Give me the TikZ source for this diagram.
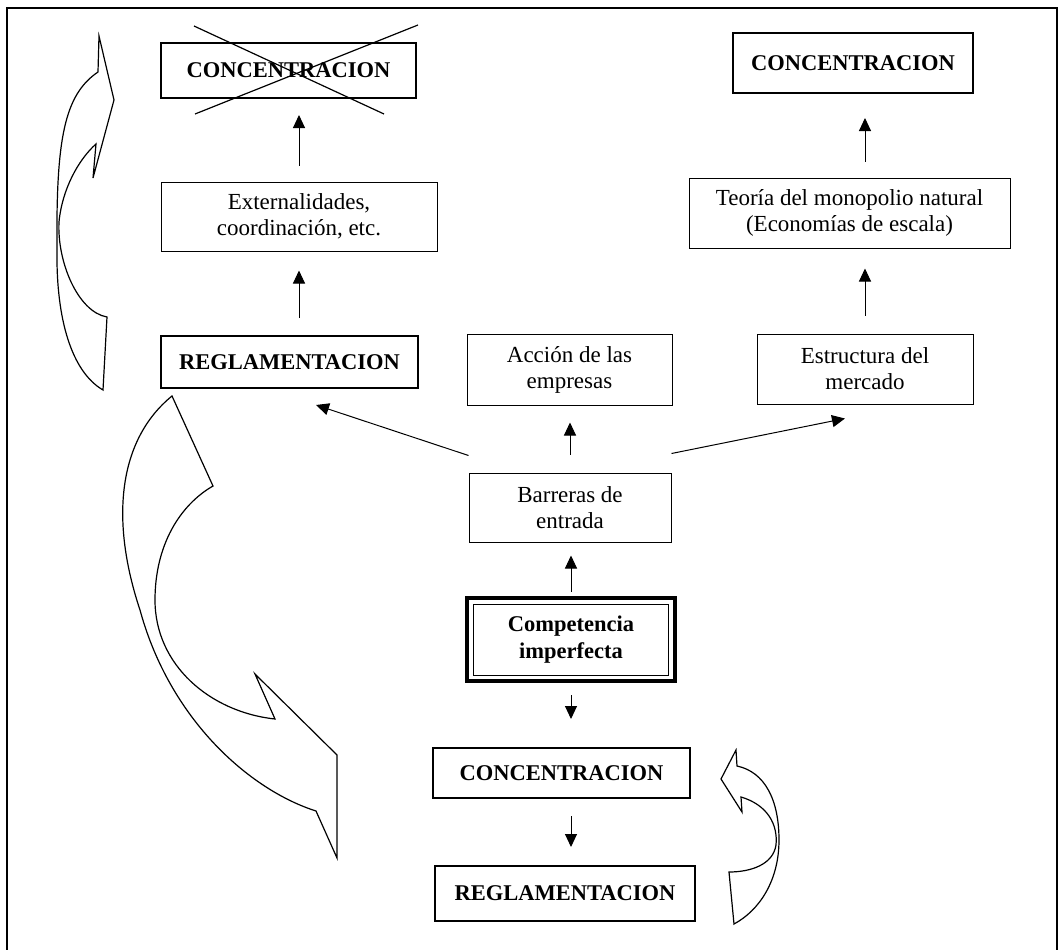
\documentclass[tikz,border=0pt]{standalone}
\usepackage{fontspec}
\setmainfont{Liberation Serif}
\usetikzlibrary{arrows.meta}
\begin{document}
\begin{tikzpicture}[x=1pt,y=-1pt,
  plainbox/.style={draw, line width=1pt, inner sep=0pt, align=center, font=\fontsize{23}{26}\selectfont},
  boldbox/.style={draw, line width=2pt, inner sep=0pt, align=center, font=\fontsize{22.5}{27}\selectfont\bfseries},
  arr/.style={-{Triangle[length=13pt,width=12pt]}, line width=1pt},
  bendarrow/.style={draw, line width=1.2pt, line join=miter}]
\fill[white] (0,0) rectangle (1061,950);
\useasboundingbox (0,0) rectangle (1061,950);
\draw[line width=1.3pt] (7,955) -- (7,8) -- (1057,8) -- (1057,955);

% nodes
\node[boldbox, minimum width=255pt, minimum height=55pt] (cx) at (288.5,70.5) {CONCENTRACION};
\node[plainbox, minimum width=276pt, minimum height=69pt] (ext) at (299,216.5) {Externalidades,\\coordinación, etc.};
\node[boldbox, minimum width=257pt, minimum height=52pt] (rega) at (289.5,362) {REGLAMENTACION};
\node[plainbox, minimum width=205pt, minimum height=71pt] (acc) at (569.5,369.5) {Acción de las\\empresas};
\node[plainbox, minimum width=216pt, minimum height=70pt] (est) at (865,369) {Estructura del\\mercado};
\node[plainbox, minimum width=321pt, minimum height=70pt] (teo) at (849.5,213) {Teoría del monopolio natural\\(Economías de escala)};
\node[boldbox, minimum width=240pt, minimum height=60pt] (cb) at (853,63) {CONCENTRACION};
\node[plainbox, minimum width=202pt, minimum height=69pt] (bar) at (570,507.5) {Barreras de\\entrada};
\node[inner sep=0pt, minimum width=208pt, minimum height=83pt, align=center, font=\fontsize{22.5}{27}\selectfont\bfseries] (comp) at (571,639.5) {Competencia\\imperfecta};
\draw[line width=4pt] (comp.south west) rectangle (comp.north east);
\draw[line width=1pt] ([shift={(7pt,6pt)}]comp.south west) rectangle ([shift={(-7pt,-7pt)}]comp.north east);
\node[boldbox, minimum width=257pt, minimum height=50pt] (cc) at (561.5,773) {CONCENTRACION};
\node[boldbox, minimum width=260pt, minimum height=55pt] (regb) at (565,893.5) {REGLAMENTACION};

% cross
\draw[line width=1.2pt] ([shift={(34pt,16pt)}]cx.north west) -- ([shift={(-33pt,-15pt)}]cx.south east);
\draw[line width=1.2pt] ([shift={(1pt,17pt)}]cx.north east) -- ([shift={(35pt,-15pt)}]cx.south west);

% arrows
\draw[arr, shorten <=16pt, shorten >=16pt] (ext.north) -- (ext.north |- cx.south);
\draw[arr, shorten <=17pt, shorten >=19pt] (ext.south |- rega.north) -- (ext.south);
\draw[arr] ([yshift=17pt]bar.north west) -- ([xshift=26.5pt,yshift=-16pt]rega.south);
\draw[arr, shorten <=18pt, shorten >=17pt] (bar.north) -- (bar.north |- acc.south);
\draw[arr] ([yshift=19pt]bar.north east) -- ([xshift=-20pt,yshift=-14pt]est.south);
\draw[arr, shorten <=18pt, shorten >=20pt] (est.north) -- (est.north |- teo.south);
\draw[arr, shorten <=16pt, shorten >=24pt] (est.north |- teo.north) -- (est.north |- cb.south);
\draw[arr, shorten <=6pt, shorten >=13pt] (comp.north) -- (comp.north |- bar.south);
\draw[arr, shorten <=14pt, shorten >=28pt] (comp.south) -- (comp.south |- cc.north);
\draw[arr, shorten <=17pt, shorten >=18pt] (comp.south |- cc.south) -- (comp.south |- regb.north);

% curved arrow A (top left)
\draw[bendarrow] (99,36) -- (114,100) -- (93,178) -- (96,144)
  .. controls (78,160) and (62,190) .. (59,222)
  .. controls (57,262) and (78,312) .. (107,317)
  -- (103,390)
  .. controls (72,372) and (56,320) .. (57,250)
  .. controls (56,140) and (64,95) .. (98,72) -- cycle;

% curved arrow B (big, middle left)
\draw[bendarrow] (172,396) -- (213,486)
  .. controls (180,505) and (155,545) .. (155,600)
  .. controls (155,665) and (210,712) .. (275,719)
  -- (255,674) -- (337,755) -- (337,858) -- (316,811)
  .. controls (250,790) and (170,720) .. (140,610)
  .. controls (110,520) and (118,440) .. (172,396) -- cycle;

% curved arrow C (bottom right)
\draw[bendarrow] (736,750) -- (721,779) -- (742,812) -- (741,797)
  .. controls (768,805) and (778,825) .. (776,845)
  .. controls (773,865) and (750,872) .. (729,872)
  -- (734,924)
  .. controls (760,910) and (779,880) .. (779,840)
  .. controls (779,800) and (765,772) .. (737,766) -- cycle;
\end{tikzpicture}
\end{document}
